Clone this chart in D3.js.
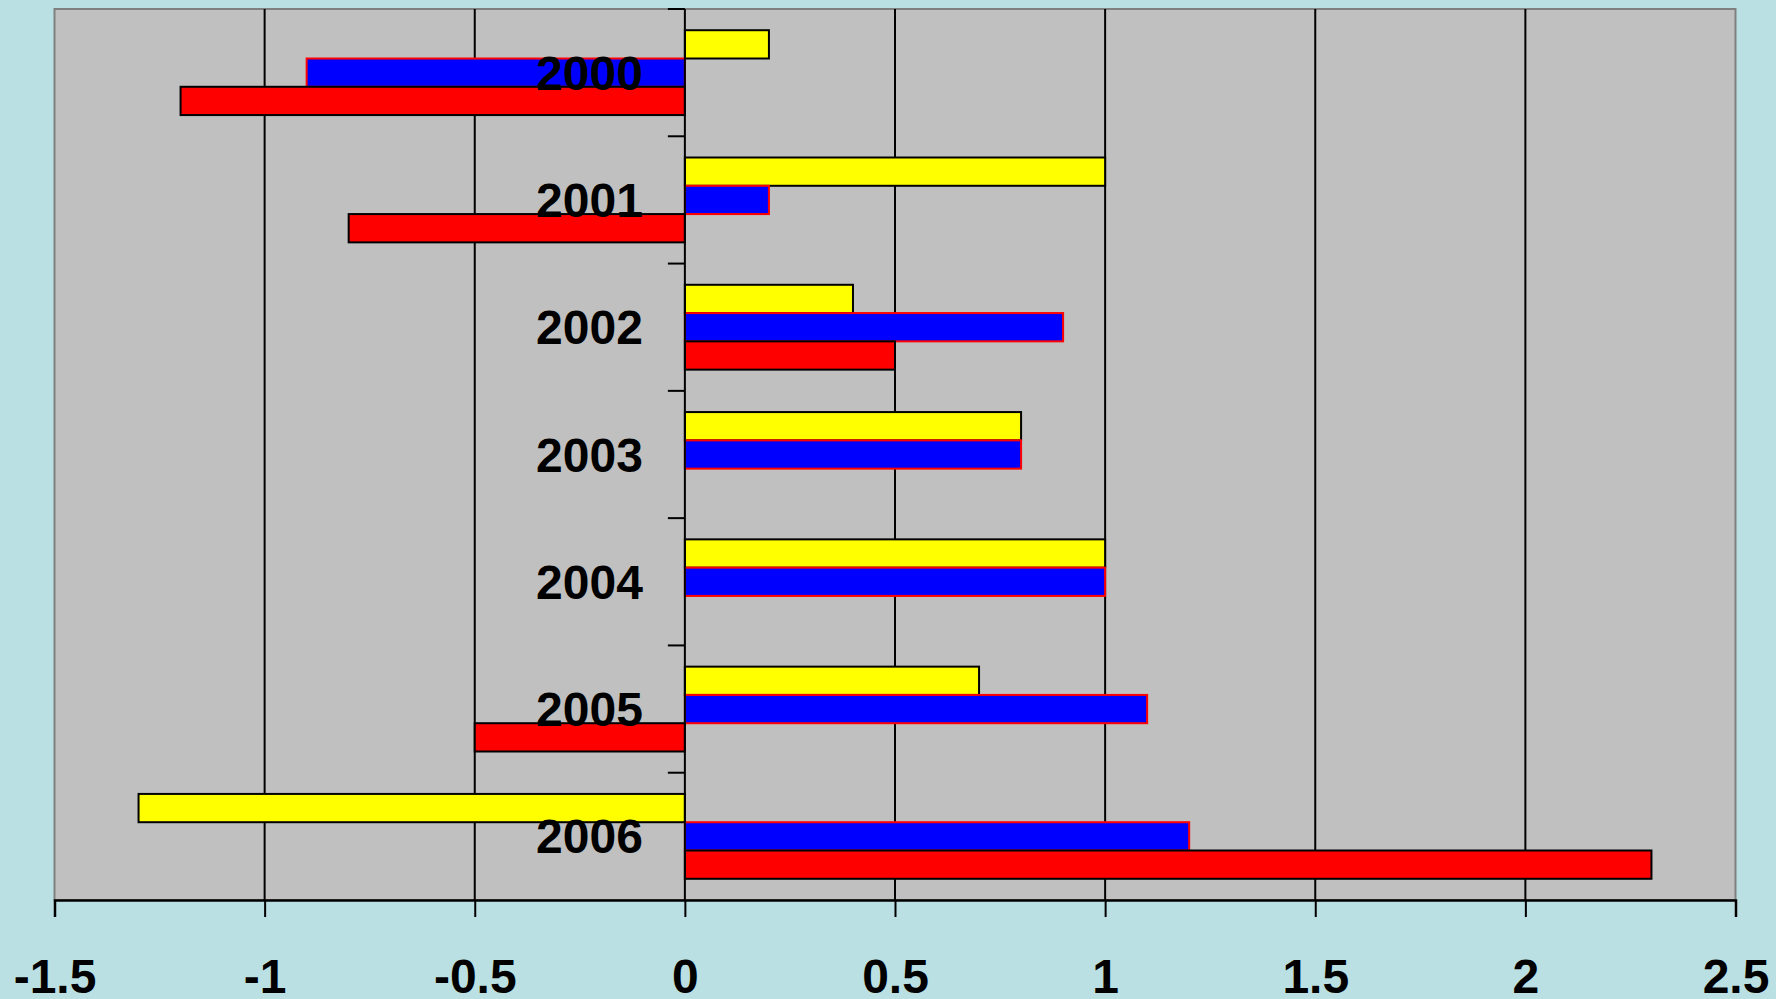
<!DOCTYPE html>
<html>
<head>
<meta charset="utf-8">
<script src="https://cdn.jsdelivr.net/npm/d3@7"></script>
<style>
  body { margin: 0; background: #bae0e3; }
  svg { display: block; }
</style>
</head>
<body>
<script>
// chart data
var years = ["2000", "2001", "2002", "2003", "2004", "2005", "2006"];
var series = ["yellow", "blue", "red"];
var yellowValues = [0.2, 1.0, 0.4, 0.8, 1.0, 0.7, -1.3];
var blueValues = [-0.9, 0.2, 0.9, 0.8, 1.0, 1.1, 1.2];
var redValues = [-1.2, -0.8, 0.5, 0, 0, -0.5, 2.3];
var xTicks = [-1.5, -1, -0.5, 0, 0.5, 1, 1.5, 2, 2.5];

var width = 1776, height = 999;
var plot = { left: 54.5, right: 1735.5, top: 9, bottom: 900 };

var svg = d3.select("body").append("svg")
    .attr("width", width)
    .attr("height", height);

var xScale = d3.scaleLinear()
    .domain([-1.5, 2.5])
    .range([plot.left, plot.right]);

var yScale = d3.scaleBand()
    .domain(years)
    .range([plot.top, plot.bottom])
    .padding(0);

// three bars per year, gap of 1.5 bar widths
var subScale = d3.scaleBand()
    .domain(series)
    .range([0, yScale.bandwidth()])
    .paddingInner(0)
    .paddingOuter(0.75);

var fills = { yellow: "#ffff00", blue: "#0000ff", red: "#ff0000" };
var strokes = { yellow: "#000000", blue: "#ff0000", red: "#000000" };
var valuesBySeries = { yellow: yellowValues, blue: blueValues, red: redValues };

// plot area
svg.append("rect")
    .attr("x", plot.left)
    .attr("y", plot.top)
    .attr("width", plot.right - plot.left)
    .attr("height", plot.bottom - plot.top)
    .attr("fill", "#c0c0c0")
    .attr("stroke", "#808080")
    .attr("stroke-width", 2);

// vertical gridlines
svg.append("g")
    .selectAll("line")
    .data(xTicks.filter(d => d != 0 && d != -1.5 && d != 2.5))
    .enter()
    .append("line")
    .attr("x1", d => xScale(d))
    .attr("x2", d => xScale(d))
    .attr("y1", plot.top)
    .attr("y2", plot.bottom)
    .attr("stroke", "#000")
    .attr("stroke-width", 2);

// bars
var rows = [];
years.forEach(function (y, i) {
    series.forEach(function (s) {
        rows.push({ year: y, series: s, value: valuesBySeries[s][i] });
    });
});

svg.append("g")
    .selectAll("rect")
    .data(rows.filter(d => d.value != 0))
    .enter()
    .append("rect")
    .attr("x", d => xScale(Math.min(0, d.value)))
    .attr("y", d => yScale(d.year) + subScale(d.series))
    .attr("width", d => Math.abs(xScale(d.value) - xScale(0)))
    .attr("height", subScale.bandwidth())
    .attr("fill", d => fills[d.series])
    .attr("stroke", d => strokes[d.series])
    .attr("stroke-width", 2);

// x axis
var xAxis = d3.axisBottom(xScale)
    .tickValues(xTicks)
    .tickSize(17)
    .tickFormat(d => String(d));

svg.append("g")
    .attr("transform", "translate(0," + plot.bottom + ")")
    .call(xAxis)
    .call(g => g.select(".domain").attr("stroke", "#000").attr("stroke-width", 2.5))
    .call(g => g.selectAll(".tick line").attr("stroke", "#000").attr("stroke-width", 2))
    .call(g => g.selectAll(".tick text")
        .attr("y", 93)
        .attr("dy", 0)
        .attr("fill", "#000")
        .attr("font-family", "Liberation Sans, Arial, sans-serif")
        .attr("font-weight", "bold")
        .attr("font-size", "48px"));

// y axis at zero with ticks between categories
svg.append("line")
    .attr("x1", xScale(0))
    .attr("x2", xScale(0))
    .attr("y1", plot.top)
    .attr("y2", plot.bottom)
    .attr("stroke", "#000")
    .attr("stroke-width", 2);

svg.append("g")
    .selectAll("line")
    .data(years.map(y => yScale(y)))
    .enter()
    .append("line")
    .attr("x1", xScale(0) - 17)
    .attr("x2", xScale(0))
    .attr("y1", d => d)
    .attr("y2", d => d)
    .attr("stroke", "#000")
    .attr("stroke-width", 2);

// category labels
svg.append("g")
    .selectAll("text")
    .data(years)
    .enter()
    .append("text")
    .attr("x", xScale(0) - 42)
    .attr("y", d => yScale(d) + yScale.bandwidth() / 2 + 17)
    .attr("text-anchor", "end")
    .attr("font-family", "Liberation Sans, Arial, sans-serif")
    .attr("font-weight", "bold")
    .attr("font-size", "48px")
    .attr("fill", "#000")
    .text(d => d);
</script>
</body>
</html>
